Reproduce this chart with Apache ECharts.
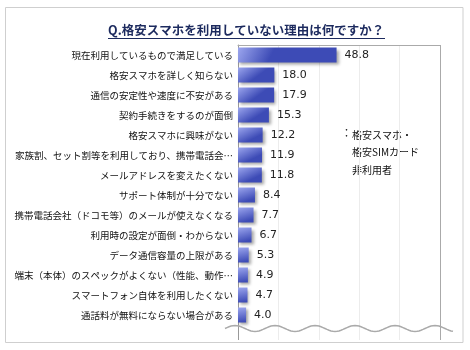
<!DOCTYPE html>
<html><head><meta charset="utf-8">
<script src="https://cdn.jsdelivr.net/npm/echarts@6/dist/echarts.min.js"></script>
<style>html,body{margin:0;padding:0;background:#fff}#c{width:470px;height:350px}</style>
</head><body><div id="c"></div>
<script>
const categories = [
  '現在利用しているもので満足している',
  '格安スマホを詳しく知らない',
  '通信の安定性や速度に不安がある',
  '契約手続きをするのが面倒',
  '格安スマホに興味がない',
  '家族割、セット割等を利用しており、携帯電話会…',
  'メールアドレスを変えたくない',
  'サポート体制が十分でない',
  '携帯電話会社（ドコモ等）のメールが使えなくなる',
  '利用時の設定が面倒・わからない',
  'データ通信容量の上限がある',
  '端末（本体）のスペックがよくない（性能、動作…',
  'スマートフォン自体を利用したくない',
  '通話料が無料にならない場合がある'
];
const values = [48.8, 18.0, 17.9, 15.3, 12.2, 11.9, 11.8, 8.4, 7.7, 6.7, 5.3, 4.9, 4.7, 4.0];
const xTicks = [0, 20, 40, 60, 80, 100];
const titleText = 'Q.格安スマホを利用していない理由は何ですか？';
const noteLines = ['格安スマホ・', '格安SIMカード', '非利用者'];

const jp = '"Noto Sans CJK JP", "Noto Sans", sans-serif';
const splitColors = ['#999', '#ececec', '#ececec', '#ececec', '#ececec', '#aaa'];

// decorative axis-break wave
const wavePts = [];
for (let x = 225; x <= 453; x += 2) {
  wavePts.push([x, 328.5 - 3 * Math.sin((x - 225) / 40 * 2 * Math.PI)]);
}

const chart = echarts.init(document.getElementById('c'), null, {renderer: 'canvas'});
chart.setOption({
  animation: false,
  backgroundColor: '#fff',
  title: {
    text: titleText, left: 108, top: 24, padding: 0,
    textStyle: {fontFamily: jp, fontSize: 12.5, fontWeight: 'bold', color: '#1c2a5e'}
  },
  grid: [
    {left: 238, top: 45, width: 202, height: 280, containLabel: false},
    {left: 238, top: 325, width: 202, height: 15, containLabel: false}
  ],
  xAxis: [
    {
      gridIndex: 0, type: 'value', position: 'top',
      min: xTicks[0], max: xTicks[xTicks.length - 1], interval: xTicks[1] - xTicks[0],
      axisLine: {show: true, lineStyle: {color: '#aaa', width: 1}},
      axisTick: {show: false}, axisLabel: {show: false},
      splitLine: {show: true, lineStyle: {color: splitColors, width: 1}}
    },
    {
      gridIndex: 1, type: 'value',
      min: xTicks[0], max: xTicks[xTicks.length - 1], interval: xTicks[1] - xTicks[0],
      axisLine: {show: false}, axisTick: {show: false}, axisLabel: {show: false},
      splitLine: {show: true, lineStyle: {color: splitColors, width: 1}}
    }
  ],
  yAxis: [
    {
      gridIndex: 0, type: 'category', data: categories, inverse: true,
      axisLine: {show: true, lineStyle: {color: '#999', width: 1}},
      axisTick: {show: false},
      axisLabel: {margin: 5, fontFamily: jp, fontSize: 9.5, color: '#111'}
    },
    {
      gridIndex: 1, type: 'category', data: [''], show: false
    }
  ],
  series: [{
    type: 'bar', xAxisIndex: 0, yAxisIndex: 0,
    data: values, barWidth: 15,
    itemStyle: {
      color: {
        type: 'linear', x: 0, y: 0, x2: 0.3, y2: 1,
        colorStops: [
          {offset: 0, color: '#9ca6ee'},
          {offset: 1, color: '#3d4bb6'}
        ]
      },
      shadowColor: 'rgba(0,0,0,0.35)', shadowBlur: 3, shadowOffsetX: 2, shadowOffsetY: 2
    },
    label: {
      show: true, position: 'right', distance: 8,
      fontFamily: '"DejaVu Sans", sans-serif', fontSize: 11, color: '#222',
      formatter: p => p.value.toFixed(1)
    }
  }],
  graphic: [
    {type: 'rect', z: -10, silent: true,
     shape: {x: 5.5, y: 7.5, width: 457.5, height: 335},
     style: {fill: 'none', stroke: '#cfcfcf', lineWidth: 1}},
    {type: 'line', silent: true,
     shape: {x1: 108, y1: 38.5, x2: 385, y2: 38.5},
     style: {stroke: '#1c2a5e', lineWidth: 1}},
    {type: 'polyline', silent: true, z: 100,
     shape: {points: wavePts},
     style: {fill: 'none', stroke: '#aaa', lineWidth: 1.5}},
    {type: 'text', silent: true, x: 341, y: 127,
     style: {text: '：', font: '11px ' + jp, fill: '#111'}},
    {type: 'text', silent: true, x: 352, y: 126,
     style: {text: noteLines.join('\n'), font: '10px ' + jp, lineHeight: 17.5, fill: '#111'}}
  ]
});
</script>
</body></html>
